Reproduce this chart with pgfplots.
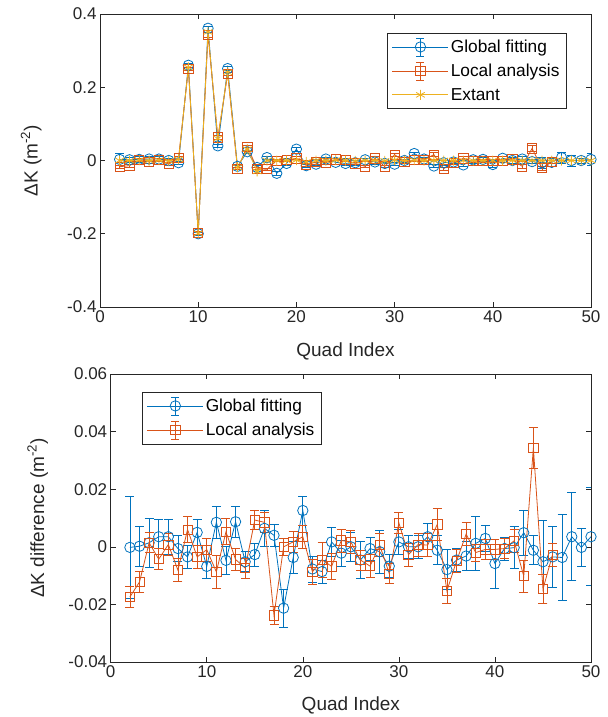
\documentclass[border=0pt]{standalone}
\usepackage{fontspec}
\setmainfont{Liberation Sans}
\usepackage{pgfplots}
\pgfplotsset{compat=1.18}
\usepackage{pgfplotstable}
\definecolor{mblue}{rgb}{0,0.447,0.741}
\definecolor{morange}{rgb}{0.85,0.325,0.098}
\definecolor{myellow}{rgb}{0.929,0.694,0.125}
\definecolor{axgray}{rgb}{0.15,0.15,0.15}

\pgfplotstableread{
x y e
2 0.003 0.0177
3 0.002 0.0070
4 0.003 0.0085
5 0.004 0.0060
6 0.004 0.0060
7 0.000 0.0045
8 -0.006 0.0040
9 0.260 0.0045
10 -0.200 0.0040
11 0.361 0.0055
12 0.040 0.0050
13 0.251 0.0053
14 -0.016 0.0035
15 0.024 0.0040
16 -0.019 0.0064
17 0.008 0.0038
18 -0.035 0.0066
19 -0.008 0.0055
20 0.031 0.0050
21 -0.014 0.0045
22 -0.010 0.0040
23 0.004 0.0050
24 -0.005 0.0045
25 -0.008 0.0050
26 -0.006 0.0064
27 0.002 0.0040
28 -0.004 0.0075
29 -0.008 0.0040
30 -0.010 0.0045
31 0.000 0.0040
32 0.019 0.0040
33 0.004 0.0045
34 -0.015 0.0050
35 -0.006 0.0070
36 -0.004 0.0040
37 -0.012 0.0050
38 0.002 0.0094
39 0.003 0.0045
40 -0.011 0.0085
41 0.006 0.0040
42 0.000 0.0073
43 0.004 0.0078
44 -0.003 0.0050
45 -0.006 0.0145
46 -0.005 0.0106
47 0.008 0.0148
48 0.000 0.0153
49 0.000 0.0067
50 0.003 0.0170
}\topglobal

\pgfplotstableread{
x y e
2 -0.017 0.0035
3 -0.014 0.0036
4 0.001 0.0035
5 -0.004 0.0037
6 0.001 0.0038
7 -0.010 0.0040
8 0.007 0.0044
9 0.250 0.0040
10 -0.198 0.0040
11 0.343 0.0058
12 0.063 0.0045
13 0.236 0.0038
14 -0.022 0.0035
15 0.038 0.0033
16 -0.022 0.0035
17 -0.024 0.0030
18 0.000 0.0030
19 0.001 0.0035
20 0.006 0.0040
21 -0.012 0.0045
22 -0.004 0.0060
23 -0.006 0.0045
24 0.003 0.0040
25 0.002 0.0040
26 -0.008 0.0035
27 -0.016 0.0040
28 0.006 0.0040
29 -0.016 0.0035
30 0.016 0.0035
31 -0.004 0.0040
32 0.001 0.0040
33 0.002 0.0040
34 0.016 0.0055
35 -0.022 0.0045
36 -0.006 0.0040
37 0.006 0.0040
38 -0.002 0.0030
39 -0.001 0.0035
40 -0.001 0.0035
41 -0.001 0.0035
42 0.003 0.0040
43 -0.016 0.0055
44 0.033 0.0072
45 -0.021 0.0050
46 -0.004 0.0040
}\toplocal

\pgfplotstableread{
x y
2 0.000
3 0.000
4 0.001
5 0.000
6 0.001
7 -0.001
8 0.003
9 0.254
10 -0.199
11 0.351
12 0.060
13 0.241
14 -0.019
15 0.031
16 -0.030
17 0.000
18 0.000
19 0.000
20 0.001
21 -0.004
22 0.000
23 0.000
24 0.001
25 0.000
26 -0.001
27 0.000
28 0.000
29 -0.001
30 0.001
31 0.000
32 0.001
33 0.000
34 0.000
35 0.000
36 0.000
37 0.000
38 0.000
39 0.000
40 0.000
41 0.000
42 0.000
43 0.000
44 0.000
45 0.000
46 0.000
47 0.000
48 0.000
49 0.000
50 0.000
}\topextant

\pgfplotstableread{
x y e
2 -0.0002 0.0177
3 0.0002 0.0070
4 0.0014 0.0085
5 0.0035 0.0060
6 0.0035 0.0060
7 -0.0006 0.0045
8 -0.0035 0.0040
9 0.0050 0.0045
10 -0.0068 0.0040
11 0.0085 0.0055
12 -0.0047 0.0050
13 0.0087 0.0053
14 -0.0052 0.0035
15 -0.0027 0.0040
16 0.0064 0.0064
17 0.0040 0.0038
18 -0.0213 0.0066
19 -0.0037 0.0055
20 0.0126 0.0050
21 -0.0077 0.0045
22 -0.0086 0.0040
23 0.0017 0.0050
24 -0.0022 0.0045
25 0.0000 0.0050
26 -0.0046 0.0064
27 -0.0006 0.0040
28 -0.0017 0.0075
29 -0.0067 0.0040
30 0.0017 0.0045
31 0.0000 0.0040
32 0.0000 0.0040
33 0.0035 0.0045
34 -0.0012 0.0050
35 -0.0079 0.0070
36 -0.0046 0.0040
37 -0.0032 0.0050
38 0.0012 0.0094
39 0.0029 0.0045
40 -0.0058 0.0085
41 -0.0006 0.0040
42 -0.0003 0.0073
43 0.0049 0.0078
44 -0.0012 0.0050
45 -0.0052 0.0145
46 -0.0035 0.0106
47 -0.0037 0.0148
48 0.0035 0.0153
49 -0.0002 0.0067
50 0.0035 0.0170
}\diffglobal

\pgfplotstableread{
x y e
2 -0.0174 0.0035
3 -0.0122 0.0036
4 0.0014 0.0035
5 -0.0043 0.0037
6 0.0008 0.0038
7 -0.0081 0.0040
8 0.0060 0.0044
9 -0.0035 0.0040
10 -0.0010 0.0040
11 -0.0087 0.0058
12 0.0052 0.0045
13 -0.0044 0.0038
14 -0.0074 0.0035
15 0.0093 0.0033
16 0.0085 0.0035
17 -0.0238 0.0030
18 0.0000 0.0030
19 0.0017 0.0035
20 0.0035 0.0040
21 -0.0087 0.0045
22 -0.0045 0.0060
23 -0.0068 0.0045
24 0.0022 0.0040
25 0.0017 0.0040
26 -0.0046 0.0035
27 -0.0067 0.0040
28 0.0006 0.0040
29 -0.0093 0.0035
30 0.0083 0.0035
31 -0.0027 0.0040
32 0.0008 0.0040
33 0.0006 0.0040
34 0.0078 0.0055
35 -0.0153 0.0045
36 -0.0050 0.0040
37 0.0044 0.0040
38 -0.0020 0.0030
39 -0.0009 0.0035
40 -0.0009 0.0035
41 -0.0006 0.0035
42 0.0021 0.0040
43 -0.0102 0.0055
44 0.0344 0.0072
45 -0.0147 0.0050
46 -0.0027 0.0040
}\difflocal

\pgfplotsset{
  matax/.style={
    scale only axis,
    xmin=0, xmax=50,
    xtick={0,10,20,30,40,50},
    xticklabels={0,10,20,30,40,50},
    scaled y ticks=false,
    tick align=inside,
    major tick length=5bp,
    tick style={line width=0.6bp, color=axgray},
    axis line style={line width=0.6bp, color=axgray},
    ticklabel style={font=\fontsize{17bp}{20bp}\selectfont, text=axgray},
    label style={font=\fontsize{19bp}{22bp}\selectfont, text=axgray},
    legend style={font=\fontsize{17.3bp}{20bp}\selectfont, draw=axgray, line width=0.6bp,
      inner xsep=5bp, inner ysep=4.5bp, row sep=5.5bp, cells={anchor=west}},
    legend cell align=left,
    error bars/error bar style={line width=0.8bp},
    error bars/error mark options={rotate=90, mark size=4.5bp, line width=0.8bp},
  },
  ebleg/.style={legend image code/.code={
      \draw[mark repeat=2,mark phase=2,##1] plot coordinates {(0bp,0bp) (28bp,0bp) (56bp,0bp)};
      \draw[##1] (28bp,-9bp) -- (28bp,9bp);
      \draw[##1] (24bp,9bp) -- (32bp,9bp);
      \draw[##1] (24bp,-9bp) -- (32bp,-9bp);
  }},
  lnleg/.style={legend image code/.code={
      \draw[mark repeat=2,mark phase=2,##1] plot coordinates {(0bp,0bp) (28bp,0bp) (56bp,0bp)};
  }},
}

\begin{document}
\begin{tikzpicture}
\path[use as bounding box] (0,0) rectangle (608bp,-717bp);

\begin{axis}[matax,
  at={(100bp,-307bp)}, anchor=south west,
  width=491bp, height=293bp,
  ymin=-0.4, ymax=0.4,
  ytick={-0.4,-0.2,0,0.2,0.4},
  yticklabels={-0.4,-0.2,0,0.2,0.4},
  xlabel={Quad Index},
  ylabel={ΔK (m\textsuperscript{-2})},
  xlabel style={at={(axis description cs:0.5,-0.15)}, anchor=center},
  ylabel style={at={(axis description cs:-0.14,0.5)}, anchor=center},
  legend style={at={(axis description cs:0.584,0.936)}, anchor=north west},
]
\addplot[ebleg, color=mblue, line width=0.8bp, mark=o, mark size=5.2bp,
  error bars/.cd, y dir=both, y explicit]
  table[x=x, y=y, y error=e] {\topglobal};
\addlegendentry{Global fitting}
\addplot[ebleg, color=morange, line width=0.8bp, mark=square, mark size=4.6bp,
  error bars/.cd, y dir=both, y explicit]
  table[x=x, y=y, y error=e] {\toplocal};
\addlegendentry{Local analysis}
\addplot[lnleg, color=myellow, line width=0.8bp, mark=asterisk, mark size=5bp]
  table[x=x, y=y] {\topextant};
\addlegendentry{Extant}
\end{axis}

\begin{axis}[matax,
  at={(110.7bp,-662bp)}, anchor=south west,
  width=480.3bp, height=288bp,
  ymin=-0.04, ymax=0.06,
  ytick={-0.04,-0.02,0,0.02,0.04,0.06},
  yticklabels={-0.04,-0.02,0,0.02,0.04,0.06},
  xlabel={Quad Index},
  ylabel={ΔK difference (m\textsuperscript{-2})},
  xlabel style={at={(axis description cs:0.5,-0.15)}, anchor=center},
  ylabel style={at={(axis description cs:-0.152,0.5)}, anchor=center},
  legend style={at={(axis description cs:0.0645,0.9385)}, anchor=north west},
]
\addplot[ebleg, color=mblue, line width=0.8bp, mark=o, mark size=5.2bp,
  error bars/.cd, y dir=both, y explicit]
  table[x=x, y=y, y error=e] {\diffglobal};
\addlegendentry{Global fitting}
\addplot[ebleg, color=morange, line width=0.8bp, mark=square, mark size=4.6bp,
  error bars/.cd, y dir=both, y explicit]
  table[x=x, y=y, y error=e] {\difflocal};
\addlegendentry{Local analysis}
\end{axis}
\end{tikzpicture}
\end{document}
